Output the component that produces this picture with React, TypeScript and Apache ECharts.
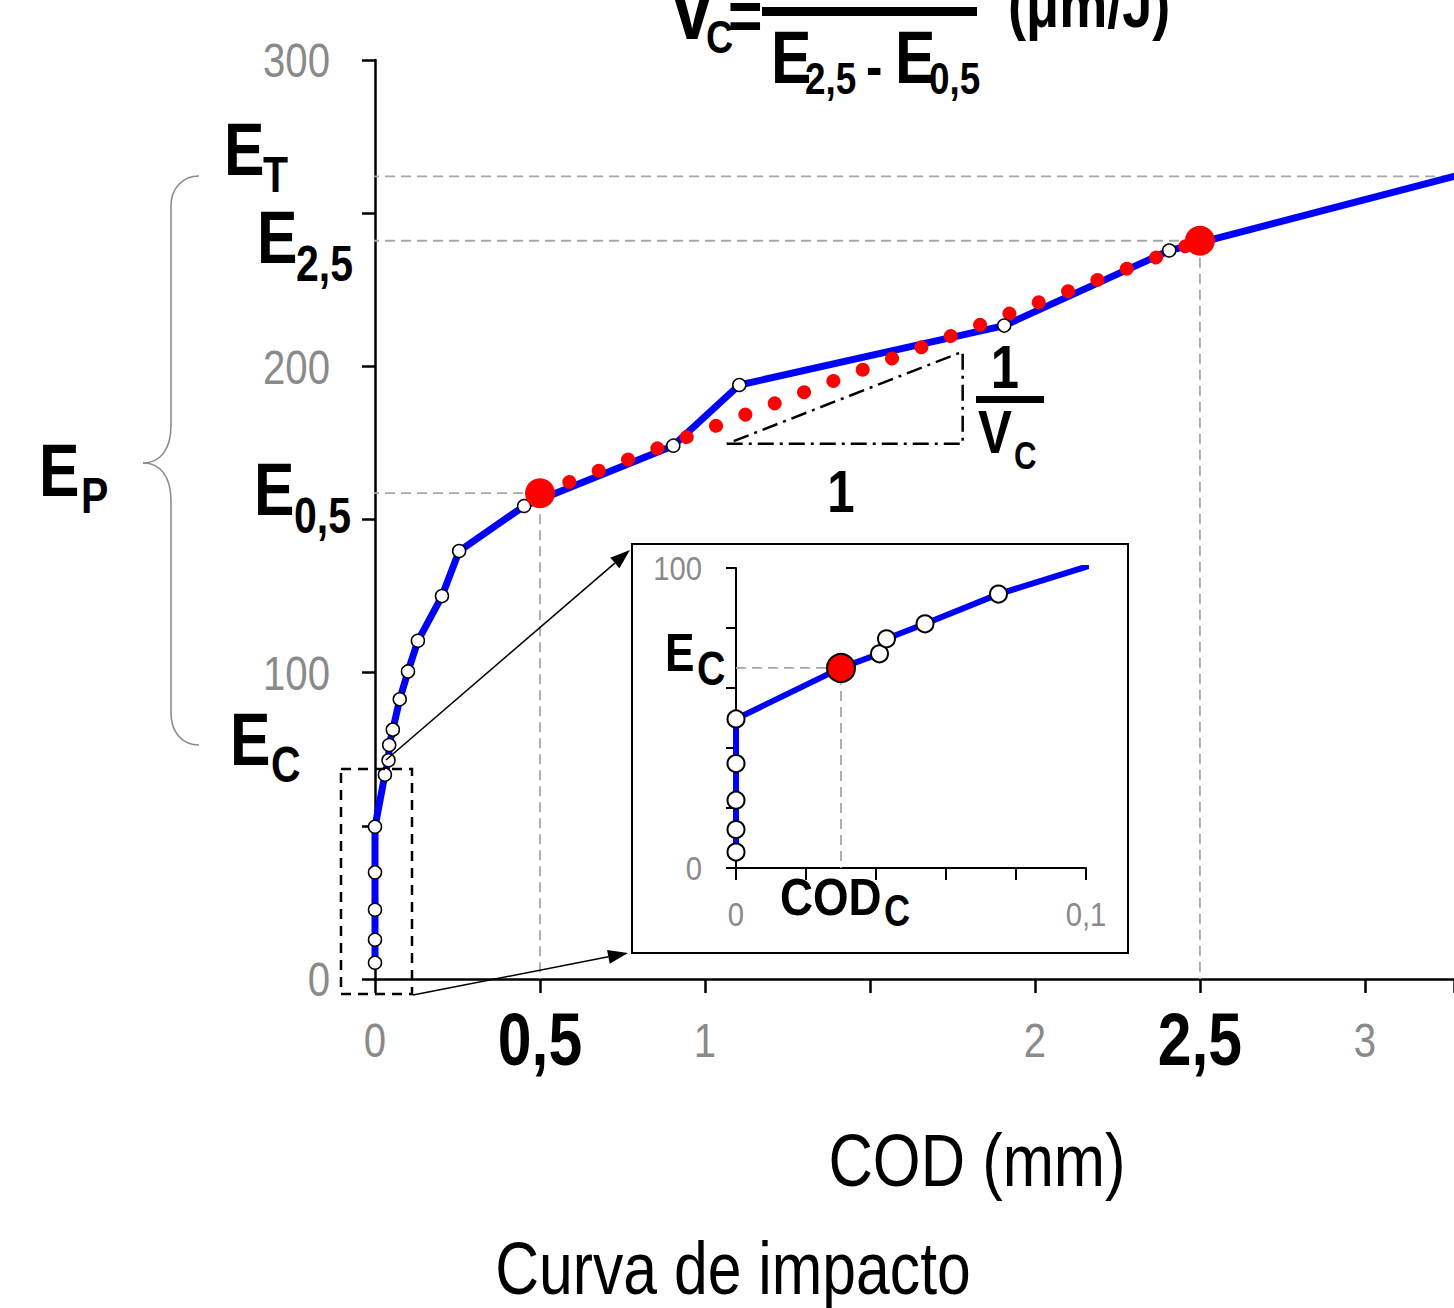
import React, { useEffect, useRef } from "react";
import * as echarts from "echarts";

// ---------------- data ----------------
const codMm = [0, 0, 0, 0, 0, 0.03, 0.041, 0.043, 0.054, 0.075, 0.1, 0.13, 0.203, 0.255, 0.452, 0.904, 1.104, 1.907, 2.407];
const energyJ = [5.3, 12.8, 22.6, 34.8, 49.7, 66.7, 71.4, 76.4, 81.4, 91.3, 100.4, 110.4, 125.0, 139.7, 154.4, 174.1, 193.9, 213.3, 237.8];
const finalCod = 3.27;
const finalEnergy = 262.0;
const E_T = 262.0;
const E_25 = 241.0;
const E_05 = 158.6;
const E_C = 66.7;
const COD_C = 0.03;
const COD_05 = 0.5;
const COD_25 = 2.5;
const triangleCod = [1.066, 1.781, 1.781, 1.066];
const triangleEnergy = [174.7, 174.7, 204.8, 174.7];

const mainXLabelValues = [0, 0.5, 1, 2, 2.5, 3];
const mainXLabelTexts = ["0", "0,5", "1", "2", "2,5", "3"];
const mainXLabelBold = [false, true, false, false, true, false];
const mainYLabelValues = [0, 100, 200, 300];
const insetXLabelValues = [0, 0.1];
const insetXLabelTexts = ["0", "0,1"];
const insetYLabelValues = [0, 100];

// ---------------- styling ----------------
const SANS = "'Liberation Sans', Arial, Helvetica, sans-serif";
const SX = 0.82;
const GRAY = "#8a8a8a";
const BLUE = "#0000ff";
const RED = "#ff0000";
const DASH_GRAY = "#a8a8a8";

function txt(text: string, x: number, y: number, size: number, opt: any = {}) {
  const align = opt.align || "left";
  const weight = opt.bold === false ? "normal" : "bold";
  return {
    type: "text",
    x,
    y,
    scaleX: opt.sx ?? SX,
    z: 100,
    silent: true,
    style: {
      text,
      fill: opt.color || "#000",
      font: `${weight} ${size}px ${SANS}`,
      align,
      textAlign: align,
      verticalAlign: "middle",
      textVerticalAlign: "middle",
    },
  };
}

function arrow(x1: number, y1: number, x2: number, y2: number) {
  const dx = x2 - x1, dy = y2 - y1;
  const len = Math.sqrt(dx * dx + dy * dy);
  const ux = dx / len, uy = dy / len;
  const hl = 20, hw = 7;
  const bx = x2 - ux * hl, by = y2 - uy * hl;
  const nx = -uy, ny = ux;
  return [
    { type: "line", silent: true, z: 60, shape: { x1, y1, x2: bx, y2: by }, style: { stroke: "#000", lineWidth: 1.6 } },
    {
      type: "polygon", silent: true, z: 60,
      shape: { points: [[x2, y2], [bx + nx * hw, by + ny * hw], [bx - nx * hw, by - ny * hw]] },
      style: { fill: "#000" },
    },
  ];
}

export default function App() {
  const ref = useRef<HTMLDivElement>(null);

  useEffect(() => {
    if (!ref.current) return;
    const chart = echarts.init(ref.current, undefined, { renderer: "svg" });

    const pts = codMm.map((c, i) => [c, energyJ[i]]);
    const curve = [...pts, [finalCod, finalEnergy]];

    const axisLine = (w: number) => ({ show: true, onZero: false, lineStyle: { color: "#000", width: w } });
    const axisTick = (len: number, w: number) => ({ show: true, inside: false, length: len, lineStyle: { color: "#000", width: w } });
    const grayDash = { color: DASH_GRAY, width: 1.8, type: [10, 6] };
    const braceStyle = { stroke: "#8c8c8c", lineWidth: 1.6, fill: "none" };

    const option: any = {
      animation: false,
      backgroundColor: "#fff",
      grid: [
        { left: 375, top: 60, width: 1079, height: 919, containLabel: false, outerBoundsMode: "none" },
        { left: 736, top: 568, width: 350, height: 300, containLabel: false, outerBoundsMode: "none" },
      ],
      xAxis: [
        {
          type: "value", gridIndex: 0, min: 0, max: finalCod, interval: 0.5,
          axisLine: axisLine(2.5), axisTick: axisTick(14, 2.5), splitLine: { show: false },
          axisLabel: { show: false },
        },
        {
          type: "value", gridIndex: 1, min: 0, max: 0.1, interval: 0.02,
          axisLine: axisLine(2), axisTick: axisTick(12, 2), splitLine: { show: false },
          axisLabel: { show: false },
        },
      ],
      yAxis: [
        {
          type: "value", gridIndex: 0, min: 0, max: 300, interval: 50,
          axisLine: axisLine(2.5), axisTick: axisTick(13, 2.5), splitLine: { show: false },
          axisLabel: { show: false },
        },
        {
          type: "value", gridIndex: 1, min: 0, max: 100, interval: 20,
          axisLine: axisLine(2), axisTick: axisTick(10, 2), splitLine: { show: false },
          axisLabel: { show: false },
        },
      ],
      series: [
        // ---- main chart ----
        { type: "line", xAxisIndex: 0, yAxisIndex: 0, data: [[-0.018, E_T], [finalCod, E_T]], symbol: "none", clip: false, silent: true, lineStyle: grayDash, z: 1 },
        { type: "line", xAxisIndex: 0, yAxisIndex: 0, data: [[-0.018, E_25], [COD_25, E_25], [COD_25, 0]], symbol: "none", clip: false, silent: true, lineStyle: grayDash, z: 1 },
        { type: "line", xAxisIndex: 0, yAxisIndex: 0, data: [[-0.018, E_05], [COD_05, E_05], [COD_05, 0]], symbol: "none", clip: false, silent: true, lineStyle: grayDash, z: 1 },
        {
          type: "line", xAxisIndex: 0, yAxisIndex: 0, data: curve, showSymbol: false, symbol: "none", clip: false, silent: true,
          lineStyle: { color: BLUE, width: 7, join: "round", cap: "round" }, z: 2,
        },
        {
          type: "line", xAxisIndex: 0, yAxisIndex: 0, data: [[COD_05, E_05], [COD_25, E_25]], symbol: "none", silent: true,
          lineStyle: { color: RED, width: 14, type: [0.01, 31.4], cap: "round" }, z: 3,
        },
        {
          type: "line", xAxisIndex: 0, yAxisIndex: 0, data: triangleCod.map((c, i) => [c, triangleEnergy[i]]), symbol: "none", silent: true,
          lineStyle: { color: "#000", width: 2.5, type: [16, 6, 3, 6] }, z: 3,
        },
        {
          type: "scatter", xAxisIndex: 0, yAxisIndex: 0, data: pts, symbol: "circle", symbolSize: 13, silent: true, clip: false,
          itemStyle: { color: "#fff", borderColor: "#000", borderWidth: 1.5, opacity: 1 }, z: 4,
        },
        {
          type: "scatter", xAxisIndex: 0, yAxisIndex: 0, data: [[COD_05, E_05], [COD_25, E_25]], symbol: "circle", symbolSize: 30, silent: true,
          itemStyle: { color: RED, opacity: 1 }, z: 5,
        },
        // ---- inset ----
        { type: "line", xAxisIndex: 1, yAxisIndex: 1, data: [[0, E_C], [COD_C, E_C], [COD_C, 0]], symbol: "none", silent: true, lineStyle: grayDash, z: 1 },
        {
          type: "line", xAxisIndex: 1, yAxisIndex: 1, data: curve, showSymbol: false, symbol: "none", clip: true, silent: true,
          lineStyle: { color: BLUE, width: 6, join: "round" }, z: 2,
        },
        {
          type: "scatter", xAxisIndex: 1, yAxisIndex: 1, data: pts, symbol: "circle", symbolSize: 17, silent: true, clip: true,
          itemStyle: { color: "#fff", borderColor: "#000", borderWidth: 2, opacity: 1 }, z: 4,
        },
        {
          type: "scatter", xAxisIndex: 1, yAxisIndex: 1, data: [[COD_C, E_C]], symbol: "circle", symbolSize: 28, silent: true,
          itemStyle: { color: RED, borderColor: "#000", borderWidth: 2, opacity: 1 }, z: 5,
        },
      ],
    };

    chart.setOption(option);

    // tick labels placed through the axes' own scales
    const toPx = (gi: number, v: [number, number]) =>
      chart.convertToPixel({ xAxisIndex: gi, yAxisIndex: gi }, v) as number[];
    const tickLabels: any[] = [];
    mainXLabelValues.forEach((v, i) => {
      const [px, py] = toPx(0, [v, 0]);
      tickLabels.push(
        mainXLabelBold[i]
          ? txt(mainXLabelTexts[i], px, py + 60, 74, { align: "center" })
          : txt(mainXLabelTexts[i], px, py + 61, 49, { align: "center", bold: false, color: GRAY })
      );
    });
    mainYLabelValues.forEach((v) => {
      const [px, py] = toPx(0, [0, v]);
      tickLabels.push(txt(String(v), px - 45, py, 49, { align: "right", bold: false, color: GRAY }));
    });
    insetXLabelValues.forEach((v, i) => {
      const [px, py] = toPx(1, [v, 0]);
      tickLabels.push(txt(insetXLabelTexts[i], px, py + 46, 34, { align: "center", bold: false, color: GRAY, sx: 0.86 }));
    });
    insetYLabelValues.forEach((v) => {
      const [px, py] = toPx(1, [0, v]);
      tickLabels.push(txt(String(v), px - 34, py, 34, { align: "right", bold: false, color: GRAY, sx: 0.86 }));
    });

    chart.setOption({
      graphic: {
        elements: [
          // inset frame
          { type: "rect", silent: true, z: 50, shape: { x: 632, y: 544, width: 496, height: 409 }, style: { fill: "none", stroke: "#000", lineWidth: 2 } },
          // zoom box
          { type: "rect", silent: true, z: 50, shape: { x: 341, y: 769, width: 71, height: 225 }, style: { fill: "none", stroke: "#000", lineWidth: 2.5, lineDash: [10, 7] } },
          ...arrow(386, 760, 630, 550),
          ...arrow(413, 995, 628, 953),
          // brace
          { type: "bezierCurve", silent: true, z: 50, shape: { x1: 199, y1: 176, cpx1: 183, cpy1: 176, cpx2: 171, cpy2: 188, x2: 171, y2: 206 }, style: braceStyle },
          { type: "line", silent: true, z: 50, shape: { x1: 171, y1: 206, x2: 171, y2: 425 }, style: braceStyle },
          { type: "bezierCurve", silent: true, z: 50, shape: { x1: 171, y1: 425, cpx1: 171, cpy1: 450, cpx2: 160, cpy2: 463, x2: 143, y2: 463 }, style: braceStyle },
          { type: "bezierCurve", silent: true, z: 50, shape: { x1: 143, y1: 463, cpx1: 160, cpy1: 463, cpx2: 171, cpy2: 476, x2: 171, y2: 501 }, style: braceStyle },
          { type: "line", silent: true, z: 50, shape: { x1: 171, y1: 501, x2: 171, y2: 713 }, style: braceStyle },
          { type: "bezierCurve", silent: true, z: 50, shape: { x1: 171, y1: 713, cpx1: 171, cpy1: 733, cpx2: 183, cpy2: 745, x2: 199, y2: 745 }, style: braceStyle },
          // left energy labels
          txt("E", 224, 149, 74), txt("T", 263, 175, 50),
          txt("E", 257, 237, 74), txt("2,5", 296, 264, 50),
          txt("E", 254, 489, 74), txt("0,5", 294, 516, 50),
          txt("E", 230, 739, 74), txt("C", 271, 765, 50),
          txt("E", 39, 470, 74), txt("P", 81, 496, 50),
          // formula at top
          txt("V", 668, 8, 88), txt("C", 706, 37, 46), txt("=", 728, 15, 72),
          { type: "rect", silent: true, z: 100, shape: { x: 762, y: 7, width: 215, height: 9 }, style: { fill: "#000" } },
          txt("E", 771, 57, 74), txt("2,5", 805, 79, 45), txt("-", 866, 66, 60),
          txt("E", 895, 57, 74), txt("0,5", 929, 79, 45),
          txt("(\u03bcm/J)", 1008, 4, 66),
          // slope annotation
          txt("1", 841, 491, 60, { align: "center" }),
          txt("1", 1005, 367, 62, { align: "center" }),
          { type: "rect", silent: true, z: 100, shape: { x: 976, y: 396, width: 68, height: 7 }, style: { fill: "#000" } },
          txt("V", 978, 432, 62), txt("C", 1014, 456, 38),
          // inset labels
          txt("E", 665, 652, 54), txt("C", 697, 668, 48),
          txt("COD", 780, 897, 52, { sx: 0.88 }), txt("C", 884, 911, 44),
          // axis title and caption
          txt("COD (mm)", 977, 1160, 75, { bold: false, align: "center" }),
          txt("Curva de impacto", 733, 1268, 74, { bold: false, align: "center" }),
          ...tickLabels,
        ],
      },
    });

    return () => chart.dispose();
  }, []);

  return (
    <div
      ref={ref}
      style={{ position: "absolute", left: 0, top: 0, width: 1454, height: 1308, background: "#fff" }}
    />
  );
}
